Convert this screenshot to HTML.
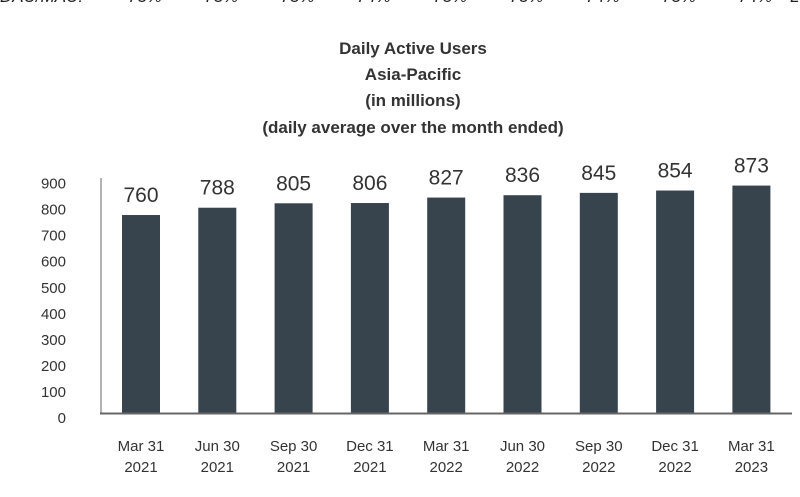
<!DOCTYPE html>
<html><head><meta charset="utf-8"><style>
body{margin:0;background:#fff;width:800px;height:492px;overflow:hidden;font-family:"Liberation Sans",sans-serif}
</style></head><body>
<svg width="800" height="492" font-family="Liberation Sans, sans-serif">
<g font-size="17" font-style="italic" fill="#222">
<text x="0" y="2">DAU/MAU:</text>
</g>
<g font-weight="bold" font-size="17" fill="#333" text-anchor="middle">
<text x="413" y="54">Daily Active Users</text>
<text x="413" y="80">Asia-Pacific</text>
<text x="413" y="106">(in millions)</text>
<text x="413" y="133">(daily average over the month ended)</text>
</g>
<g id="plot"></g>
</svg>
<script>
const categories=[["Mar 31","2021"],["Jun 30","2021"],["Sep 30","2021"],["Dec 31","2021"],["Mar 31","2022"],["Jun 30","2022"],["Sep 30","2022"],["Dec 31","2022"],["Mar 31","2023"]];
const values=[760,788,805,806,827,836,845,854,873];
const yTicks=[0,100,200,300,400,500,600,700,800,900];
const ratioLabels=["73%","73%","73%","74%","73%","73%","74%","73%","74%"];
const NS="http://www.w3.org/2000/svg";
const g=document.getElementById('plot');
const y0=413,k=0.2605;
function y(v){return y0-v*k;}
function x(i){return 141+i*76.3;}
function el(t,a,txt){const e=document.createElementNS(NS,t);for(const n in a)e.setAttribute(n,a[n]);if(txt!=null)e.textContent=txt;g.appendChild(e);return e;}
ratioLabels.forEach((r,i)=>{const t=el('text',{x:x(i)+4,y:2,'font-size':17,'font-style':'italic',fill:'#222','text-anchor':'middle'},r);

});
const L=el('text',{x:790,y:2,'font-size':17,'font-style':'italic',fill:'#222'},'L');


yTicks.forEach(v=>{const t=el('text',{x:66,y:y(v)+10,'font-size':15,fill:'#333','text-anchor':'end'},v);

});
const ya=el('line',{x1:101,y1:178,x2:101,y2:y0,stroke:'#999','stroke-width':1.5});


values.forEach((v,i)=>{
const b=el('rect',{x:x(i)-19,y:y(v),width:38,height:y0-y(v),fill:'#37434d'});


const t=el('text',{x:x(i),y:y(v)-13,'font-size':21,fill:'#333','text-anchor':'middle'},v);


categories[i].forEach((s,j)=>{const c=el('text',{x:x(i),y:451+j*21,'font-size':15,fill:'#333','text-anchor':'middle'},s);

});
});
const xa=el('line',{x1:100,y1:y0+0.5,x2:792,y2:y0+0.5,stroke:'#666','stroke-width':2});


</script>
</body></html>
